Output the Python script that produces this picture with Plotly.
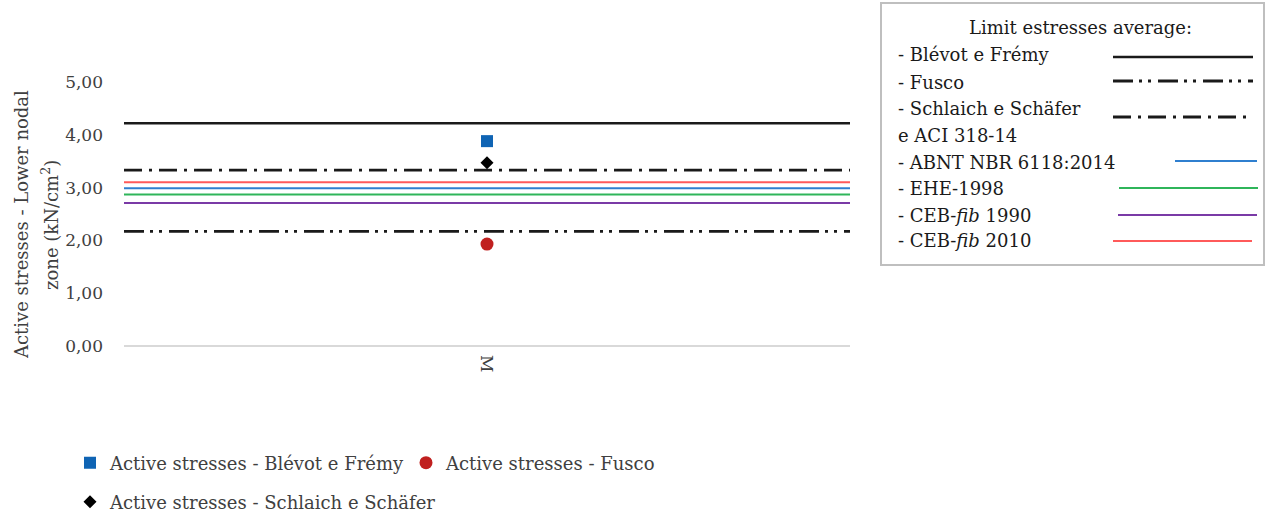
import plotly.graph_objects as go

# ---- data ----
category = ["M"]
limit_names = ["- Blévot e Frémy", "- Fusco", "- Schlaich e Schäfer<br>e ACI 318-14",
               "- ABNT NBR 6118:2014", "- EHE-1998", "- CEB-<i>fib</i> 1990", "- CEB-<i>fib</i> 2010"]
limit_values = [4.22, 2.17, 3.33, 2.99, 2.87, 2.71, 3.10]
limit_colors = ["#1a1a1a", "#1a1a1a", "#1a1a1a", "#2f7fcf", "#2fb55a", "#7a3aa6", "#ff5a5a"]
limit_dash = ["solid", "20px,6px,3px,6px,3px,7px", "18px,7px,3px,7px", "solid", "solid", "solid", "solid"]
limit_width = [2.5, 2.8, 2.8, 2, 2, 2, 2]

active_names = ["Active stresses - Blévot e Frémy", "Active stresses - Fusco",
                "Active stresses - Schlaich e Schäfer"]
active_values = [3.88, 1.93, 3.47]
active_symbols = ["square", "circle", "diamond"]
active_colors = ["#0f64b4", "#c0201f", "#000000"]
active_sizes = [12, 13, 10]

y_ticks = [0, 1, 2, 3, 4, 5]
y_title_lines = ["Active stresses - Lower nodal", "zone (kN/cm<sup>2</sup>)"]
legend_title = "Limit estresses average:"

FONT = "DejaVu Serif"
TXT = "#404040"
W, H = 1266, 512
L, R, T, B = 124, 416, 82, 166
PW, PH = W - L - R, H - T - B


def px(x):
    return (x - L) / PW


def py(y):
    return (H - B - y) / PH


def cy(y):
    return 1 - y / H


def cx(x):
    return x / W


fig = go.Figure()

# limit lines span the whole category band
for name, v, c, d, w in zip(limit_names, limit_values, limit_colors, limit_dash, limit_width):
    fig.add_trace(go.Scatter(x=[0, 1], y=[v, v], mode="lines", name=name,
                             line=dict(color=c, dash=d, width=w), showlegend=False,
                             hoverinfo="skip"))

legend_ids = ["legend", "legend", "legend2"]
for name, v, s, c, sz, lg in zip(active_names, active_values, active_symbols, active_colors,
                                 active_sizes, legend_ids):
    fig.add_trace(go.Scatter(x=[0.5], y=[v], mode="markers", name=name,
                             marker=dict(symbol=s, color=c, size=sz), legend=lg))

fig.update_layout(
    width=W, height=H,
    margin=dict(l=L, r=R, t=T, b=B, autoexpand=False),
    paper_bgcolor="white", plot_bgcolor="white",
    separators=",.",
    font=dict(family=FONT, size=18, color=TXT),
    xaxis=dict(range=[0, 1], tickvals=[0.5], ticktext=category, tickangle=90,
               showgrid=False, zeroline=False, showline=False, ticklabelstandoff=8,
               tickfont=dict(size=17, color=TXT), fixedrange=True),
    yaxis=dict(range=[0, 5], tickvals=y_ticks, tickformat=".2f", showgrid=False,
               zeroline=True, zerolinecolor="#d9d9d9", zerolinewidth=1.5,
               showline=False, ticklabelstandoff=20,
               tickfont=dict(size=17, color=TXT)),
    legend=dict(orientation="h", xref="container", yref="container", x=cx(70), y=cy(463),
                xanchor="left", yanchor="middle",
                entrywidth=291, font=dict(size=18, color=TXT), bgcolor="rgba(0,0,0,0)"),
    legend2=dict(orientation="h", xref="container", yref="container", x=cx(70), y=cy(502),
                 xanchor="left", yanchor="middle",
                 font=dict(size=18, color=TXT), bgcolor="rgba(0,0,0,0)"),
)

annotations = []
# y-axis title (two lines, rotated)
for line, xpix in zip(y_title_lines, [21, 50]):
    annotations.append(dict(text=line, xref="paper", yref="paper", x=px(xpix), y=py(225),
                            xanchor="center", yanchor="middle", textangle=-90, showarrow=False,
                            font=dict(size=18, color=TXT)))

# right-hand legend box for the limit lines
shapes = [dict(type="rect", xref="paper", yref="paper", x0=px(881), x1=px(1264),
               y0=py(265), y1=py(3), line=dict(color="#bfbfbf", width=2),
               fillcolor="rgba(0,0,0,0)", layer="above")]
annotations.append(dict(text=legend_title, xref="paper", yref="paper",
                        x=px(1080), y=py(27), xanchor="center", yanchor="middle",
                        showarrow=False, font=dict(size=18, color="#1a1a1a")))
text_y = [[55], [82], [108, 135], [162], [188], [215], [240]]
sample_y = [57, 81, 117, 161, 188, 215, 241]
sample_x = [(1113, 1253), (1113, 1253), (1113, 1253), (1175, 1257), (1119, 1258),
            (1118, 1257), (1113, 1252)]
for name, c, d, w, tys, sy, (sx0, sx1) in zip(limit_names, limit_colors, limit_dash, limit_width,
                                              text_y, sample_y, sample_x):
    for part, ty in zip(name.split("<br>"), tys):
        annotations.append(dict(text=part, xref="paper", yref="paper", x=px(896), y=py(ty),
                                xanchor="left", yanchor="middle", align="left", showarrow=False,
                                font=dict(size=18, color="#1a1a1a")))
    shapes.append(dict(type="line", xref="paper", yref="paper", x0=px(sx0), x1=px(sx1),
                       y0=py(sy), y1=py(sy), line=dict(color=c, dash=d, width=w)))
fig.update_layout(shapes=shapes, annotations=annotations)

fig.write_html("out.html", config={"displayModeBar": False},
               post_script="document.body.style.margin='0';")
